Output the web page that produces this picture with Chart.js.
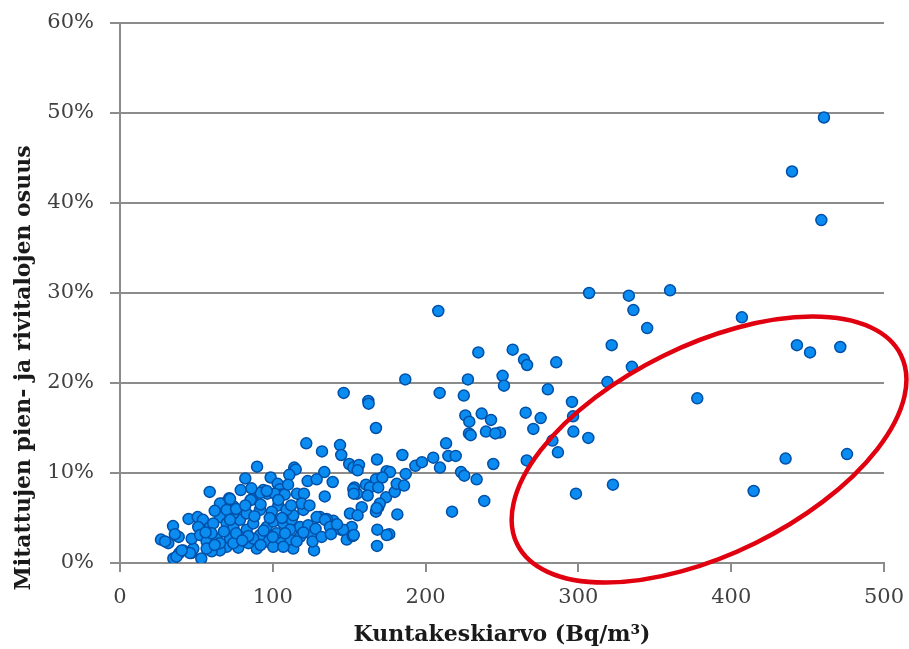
<!DOCTYPE html>
<html>
<head>
<meta charset="utf-8">
<script src="https://cdn.jsdelivr.net/npm/chart.js@4.4.1/dist/chart.umd.min.js"></script>
<style>
    html, body { margin: 0; padding: 0; background: #fff; }
    #wrap { width: 909px; height: 649px; }
</style>
</head>
<body>
<div id="wrap"><canvas id="kaavio"></canvas></div>
<script>
// Kuntakeskiarvo (Bq/m3) ja mitattujen pien- ja rivitalojen osuus (%)
const ylaosa = [
    [460.7, 49.5], [439.8, 43.5], [459, 38.1], [307, 30.0], [333, 29.7], [336, 28.1],
    [360, 30.3], [345, 26.1], [407, 27.3], [443, 24.2], [451.6, 23.4], [471.4, 24.0],
    [321.8, 24.2], [335, 21.8], [319, 20.1], [257, 23.7], [264.4, 22.6], [266.4, 22.0],
    [285.5, 22.3], [250.4, 20.8], [251.3, 19.7], [280, 19.3], [295.8, 17.9], [265.5, 16.7],
    [275.3, 16.1], [296.5, 16.3], [270.5, 14.9], [296.7, 14.6], [306.5, 13.9], [283, 13.6],
    [286.6, 12.3], [248.7, 14.5], [266.2, 11.4], [377.8, 18.3], [435.6, 11.6], [475.8, 12.1],
    [298.4, 7.7], [322.6, 8.7], [414.7, 8.0]
];

const keskiosa = [
    [208.3, 28.0], [234.5, 23.4], [227.7, 20.4], [209.2, 18.9], [225, 18.6], [226, 16.4],
    [236.7, 16.6], [228.6, 15.7], [242.8, 15.9], [228.4, 14.4], [229.5, 14.2], [239.5, 14.6],
    [245.6, 14.4], [213.4, 13.3], [205, 11.7], [214.9, 11.9], [219.7, 11.9], [209.4, 10.6],
    [244.3, 11.0], [223.2, 10.1], [225.3, 9.7], [233.4, 9.3], [238.4, 6.9], [217.3, 5.7],
    [186.7, 20.4], [146.4, 18.9], [162.5, 18.0], [162.7, 17.7], [167.5, 15.0], [132.2, 12.4],
    [144, 13.1], [144.8, 12.0], [150, 11.0], [152.7, 10.6], [156.4, 10.9], [155.5, 10.3],
    [168.2, 11.5], [184.8, 12.0], [193.3, 10.8], [197.6, 11.2], [133.7, 10.1], [139.2, 9.0],
    [174.5, 10.2], [176.7, 10.1], [187, 9.9], [167.5, 9.3], [171.7, 9.5], [153.4, 8.4],
    [155.1, 7.7], [161, 8.7], [163.6, 8.4], [169, 8.4], [162.1, 7.5], [174.1, 7.3],
    [179.8, 7.9], [181.1, 8.8], [185.9, 8.6], [134, 7.4], [158.2, 6.2], [150.5, 5.5],
    [155.5, 5.3], [169, 6.2], [167.5, 5.7], [181.5, 5.4], [139.6, 4.7], [135.3, 4.9],
    [130.9, 5.1], [144.4, 3.7], [151.6, 4.0], [148.4, 2.6], [152.3, 3.0], [168.4, 3.7],
    [176.2, 3.2], [168.2, 1.9], [127, 1.4], [121.9, 13.3], [89.7, 10.7], [114, 10.6],
    [115, 10.4], [110.8, 9.8], [82, 9.4], [98.6, 9.5], [122.8, 9.1], [128.7, 9.3],
    [103.2, 8.8], [58.7, 7.9], [79, 8.1], [104.7, 8.2], [93.8, 8.1], [105.6, 7.6],
    [96.4, 7.7], [86.6, 7.1], [71.5, 7.2], [101.2, 7.7], [107.8, 7.6], [115.8, 7.7],
    [120.4, 7.7], [67.2, 6.6], [74.2, 6.3], [152.7, 8.2], [153, 7.7], [170, 6.6],
    [168, 6.1], [174.5, 3.1], [146, 3.7], [153, 3.1]
];

const alaosa = [
    [34.7, 4.1], [44.9, 4.9], [50.8, 5.1], [54.3, 4.8], [38.4, 2.9], [35.9, 3.2],
    [26.8, 2.6], [31.6, 2.2], [29.5, 2.4], [34.9, 0.5], [38.8, 1.1], [41.4, 1.4],
    [46.7, 1.1], [53.2, 0.5], [37, 0.7], [65.4, 6.6], [72, 7.1], [85.5, 7.0],
    [92, 7.8], [96, 8.0], [103.6, 6.4], [103.6, 7.0], [125.4, 3.1], [117.8, 2.9],
    [113.4, 1.6], [111.3, 2.6], [104.7, 2.7], [96, 2.4], [89.5, 1.6], [84, 2.2],
    [77.4, 1.7], [69.8, 1.8], [65.4, 1.4], [60, 1.3], [48, 1.6], [45.8, 1.1],
    [40.4, 1.4], [58.9, 4.0], [51.2, 4.0], [46.9, 2.7], [52.4, 3.1], [56.7, 2.4],
    [63.2, 2.7], [65.4, 5.1], [69.8, 4.4], [74.2, 3.9], [78.5, 4.8], [82.9, 3.7],
    [87.2, 4.4], [91.6, 3.1], [96, 4.0], [100.3, 4.6], [106.9, 4.4], [112.4, 4.8],
    [117.8, 4.0], [123.2, 4.2], [128.7, 5.1], [134.2, 4.8], [137.4, 4.0], [113.4, 5.3],
    [120, 5.9], [118.9, 6.6], [109, 5.9], [99.3, 5.7], [91.6, 5.9], [82.9, 5.5],
    [74.2, 5.5], [69.8, 5.9], [61, 4.4], [87.2, 2.7], [78.5, 2.9], [72, 2.7],
    [74.2, 2.2], [65.4, 2.2], [100.3, 1.8], [106.9, 1.8], [102.5, 3.3], [111.3, 3.7],
    [115.6, 2.4], [56.7, 1.6], [60, 3.3], [68, 3.5], [76, 3.3], [84, 3.0],
    [94, 3.6], [100, 2.9], [108, 3.3], [62, 2.0], [80, 2.5], [92, 2.0],
    [98, 5.0], [106, 5.0], [112, 6.4], [88, 5.2], [76, 6.0], [62, 5.8],
    [56, 3.4], [120, 3.4], [128, 3.8], [126, 2.4], [132, 2.9], [138, 3.2],
    [142, 4.3], [86, 8.3], [110, 8.7], [72, 4.8], [92, 6.5], [82, 6.4],
    [124, 6.4]
];

const xTicks = [0, 100, 200, 300, 400, 500];
const yTicks = [0, 10, 20, 30, 40, 50, 60];

const xOtsikko = 'Kuntakeskiarvo (Bq/m³)';
const yOtsikko = 'Mitattujen pien- ja rivitalojen osuus';

// punainen rengas, keskipiste datayksiköissä, säteet x-akselin yksiköissä
const rengas = { cx: 385.5, cy: 12.6, rx: 140, ry: 68.3, kulma: -26.2 };

const pisteet = [...ylaosa, ...keskiosa, ...alaosa].map(p => ({ x: p[0], y: p[1] }));

const harmaa = '#8c8c8c';
const tekstiVari = '#404040';

const lisat = {
    id: 'lisat',
    afterDraw(chart) {
        const ctx = chart.ctx;
        const xs = chart.scales.x;
        const ys = chart.scales.y;
        const area = chart.chartArea;
        const yksikko = (xs.getPixelForValue(100) - xs.getPixelForValue(0)) / 100;

        // rengas
        ctx.save();
        ctx.beginPath();
        ctx.ellipse(
            xs.getPixelForValue(rengas.cx),
            ys.getPixelForValue(rengas.cy),
            rengas.rx * yksikko,
            rengas.ry * yksikko,
            rengas.kulma * Math.PI / 180,
            0, Math.PI * 2
        );
        ctx.strokeStyle = '#e0000f';
        ctx.lineWidth = 4.5;
        ctx.stroke();
        ctx.restore();

        // akselien otsikot
        ctx.save();
        ctx.fillStyle = '#1a1a1a';
        ctx.font = 'bold 22px "DejaVu Serif"';
        ctx.textAlign = 'center';
        ctx.textBaseline = 'middle';
        ctx.fillText(xOtsikko, (area.left + area.right) / 2, 635);

        ctx.translate(24, 368);
        ctx.rotate(-Math.PI / 2);
        ctx.fillText(yOtsikko, 0, 0);
        ctx.restore();
    }
};

new Chart(document.getElementById('kaavio'), {
    type: 'scatter',
    data: {
        datasets: [{
            data: pisteet,
            backgroundColor: '#0a8cf0',
            borderColor: '#0050a8',
            borderWidth: 1.5,
            pointRadius: 5.5,
            pointHoverRadius: 5.5
        }]
    },
    options: {
        responsive: true,
        maintainAspectRatio: false,
        animation: false,
        layout: {
            autoPadding: false,
            padding: { top: 23, right: 25, bottom: 0, left: 0 }
        },
        plugins: {
            legend: { display: false },
            tooltip: { enabled: false }
        },
        scales: {
            x: {
                type: 'linear',
                min: 0,
                max: 500,
                afterFit(scale) {
                    scale.height = 86;
                    scale.paddingLeft = 0;
                    scale.paddingRight = 0;
                },
                afterBuildTicks(scale) { scale.ticks = xTicks.map(v => ({ value: v })); },
                border: { display: true, color: harmaa, width: 2 },
                grid: {
                    drawOnChartArea: false,
                    drawTicks: true,
                    tickLength: 9,
                    color: harmaa,
                    lineWidth: 2
                },
                ticks: {
                    padding: 13,
                    color: tekstiVari,
                    font: { family: '"DejaVu Serif"', size: 21 }
                }
            },
            y: {
                type: 'linear',
                min: 0,
                max: 60,
                afterFit(scale) {
                    scale.width = 120;
                    scale.paddingTop = 0;
                    scale.paddingBottom = 0;
                },
                afterBuildTicks(scale) { scale.ticks = yTicks.map(v => ({ value: v })); },
                border: { display: true, color: harmaa, width: 2 },
                grid: {
                    drawTicks: true,
                    tickLength: 10,
                    color: harmaa,
                    lineWidth: 2
                },
                ticks: {
                    padding: 16,
                    color: tekstiVari,
                    font: { family: '"DejaVu Serif"', size: 21 },
                    callback: v => v + '%'
                }
            }
        }
    },
    plugins: [lisat]
});
</script>
</body>
</html>
